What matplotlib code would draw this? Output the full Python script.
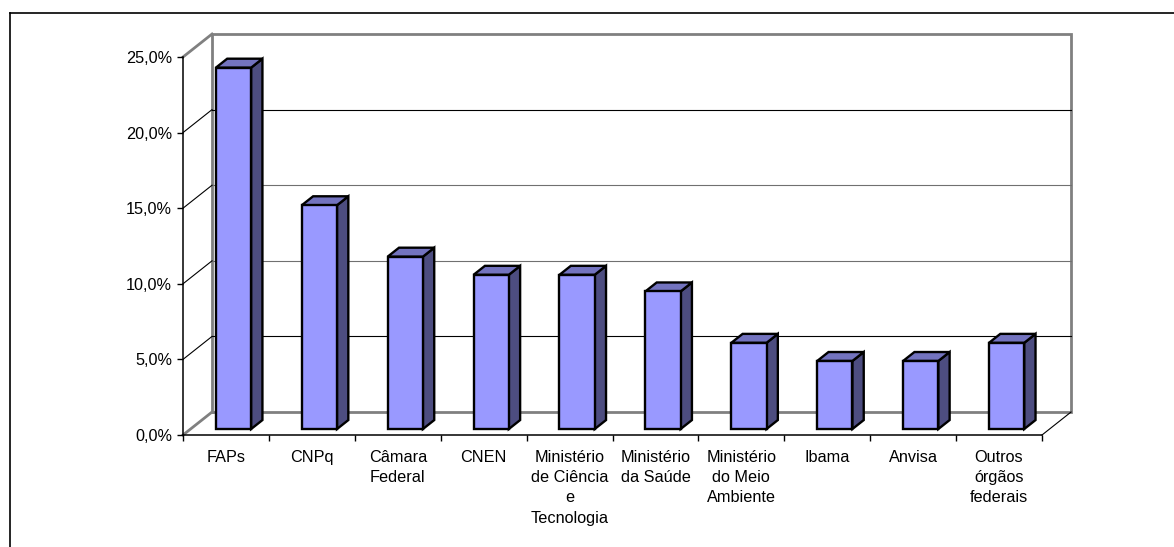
import matplotlib
matplotlib.use('Agg')
import matplotlib.pyplot as plt
from matplotlib.patches import Polygon
from matplotlib.lines import Line2D

plt.rcParams['font.family'] = ['Liberation Sans', 'DejaVu Sans']

# data: share of citations per funding body (%)
categories = ['FAPs', 'CNPq', 'Câmara\nFederal', 'CNEN', 'Ministério\nde Ciência\ne\nTecnologia',
              'Ministério\nda Saúde', 'Ministério\ndo Meio\nAmbiente', 'Ibama', 'Anvisa',
              'Outros\nórgãos\nfederais']
values = [23.9, 14.8, 11.4, 10.2, 10.2, 9.1, 5.7, 4.5, 4.5, 5.7]
yticks = [0, 5, 10, 15, 20, 25]

# 3D look: depth offset in data units (categories, percent)
DX, DY = 0.338, 1.52
bar_w = 0.41
d_front, d_back = 0.26, 0.65

front_col = '#9999FF'
side_col = '#4D4D80'
top_col = '#7373BF'
wall_col = '#808080'

W, H = 1174, 547
fig = plt.figure(figsize=(W / 100, H / 100), dpi=100)
ax = fig.add_axes([183 / W, (H - 435) / H, (1042 - 183) / W, (435 - 57) / H])
ax.set_xlim(0, len(categories))
ax.set_ylim(0, 25)

def proj(x, v, d):
    return (x + d * DX, v + d * DY)

n = len(categories)
# back wall
ax.plot([DX, DX, n + DX, n + DX, DX], [DY, 25 + DY, 25 + DY, DY, DY],
        color=wall_col, lw=2, clip_on=False, zorder=1, solid_joinstyle='miter')
# side wall top edge and floor left edge
ax.plot([0, DX], [25, 25 + DY], color=wall_col, lw=2, clip_on=False, zorder=1)
ax.plot([0, DX], [0, DY], color=wall_col, lw=2, clip_on=False, zorder=1)
# floor right edge
ax.plot([n, n + DX], [0, DY], color='black', lw=0.8, clip_on=False, zorder=1)

# gridlines on back wall + side wall
grid_cols = {5: 'black', 10: '#707070', 15: '#707070', 20: 'black'}
for v in yticks[1:-1]:
    ax.plot([DX, n + DX], [v + DY, v + DY], color=grid_cols[v], lw=0.8, clip_on=False, zorder=1)
    ax.plot([0, DX], [v, v + DY], color='black', lw=0.8, clip_on=False, zorder=1)

# bars
for i, v in enumerate(values):
    x0 = i + 0.5 - bar_w / 2
    x1 = x0 + bar_w
    front = [proj(x0, 0, d_front), proj(x1, 0, d_front), proj(x1, v, d_front), proj(x0, v, d_front)]
    side = [proj(x1, 0, d_front), proj(x1, 0, d_back), proj(x1, v, d_back), proj(x1, v, d_front)]
    top = [proj(x0, v, d_front), proj(x1, v, d_front), proj(x1, v, d_back), proj(x0, v, d_back)]
    for pts, col in [(side, side_col), (top, top_col), (front, front_col)]:
        ax.add_patch(Polygon(pts, closed=True, facecolor=col, edgecolor='black',
                             lw=1.7, joinstyle='miter', clip_on=False, zorder=3))

# axes
for s in ['top', 'right']:
    ax.spines[s].set_visible(False)
for s in ['left', 'bottom']:
    ax.spines[s].set_color('black')
    ax.spines[s].set_linewidth(1.1)
    ax.spines[s].set_zorder(2)

ax.set_yticks(yticks)
ax.set_yticklabels([f'{v:.1f}%'.replace('.', ',') for v in yticks])
ax.tick_params(axis='y', direction='out', length=4.3, width=1, pad=3.5, labelsize=11.7)

ax.set_xticks([i + 0.5 for i in range(n)])
ax.set_xticklabels(categories, linespacing=1.45, va='top')
ax.set_xticks(range(n + 1), minor=True)
ax.tick_params(axis='x', which='major', length=0, pad=10.5, labelsize=11.7)
ax.tick_params(axis='x', which='minor', direction='out', length=4.3, width=1)
ax.patch.set_visible(False)

# outer chart frame
fig.add_artist(Line2D([10 / W, 10 / W], [0, (H - 13) / H], color='black', lw=1.2))
fig.add_artist(Line2D([10 / W, 1], [(H - 13) / H, (H - 13) / H], color='black', lw=1.2))

fig.savefig('out.png', dpi=100)
